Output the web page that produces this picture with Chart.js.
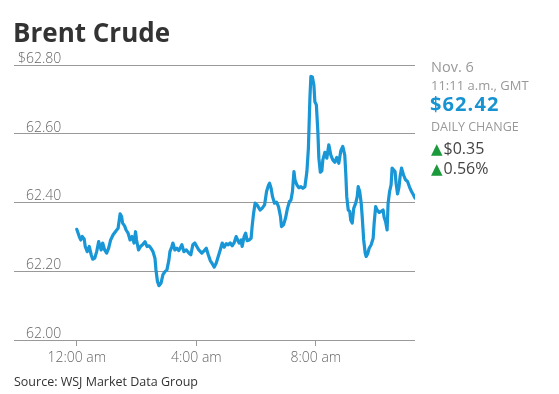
<!DOCTYPE html>
<html>
<head>
<meta charset="utf-8">
<script src="https://cdn.jsdelivr.net/npm/chart.js@4"></script>
<style>
  html, body { margin: 0; padding: 0; background: #fff; }
  body { width: 559px; height: 394px; position: relative; overflow: hidden; font-family: "Open Sans", Lato, sans-serif; }
  canvas { position: absolute; left: 0; top: 0; }
  .t { position: absolute; white-space: nowrap; line-height: 1; }
  #title { left: 13px; top: 19px; font-size: 26px; font-weight: 700; color: #333; }
  #date { left: 431px; top: 60.4px; font-size: 14.5px; color: #999; }
  #time { left: 431px; top: 78.5px; font-size: 13px; color: #999; }
  #price { left: 430px; top: 94px; font-size: 20px; font-weight: 700; color: #1793d1; letter-spacing: 1.1px; }
  #dc { left: 431px; top: 121.2px; font-size: 12.5px; color: #999; }
  .chg { position: absolute; white-space: nowrap; line-height: 1; left: 431px; font-size: 16px; color: #444; }
  #chg1 { top: 139.8px; }
  #chg2 { top: 159.8px; }
  .up { font-family: "DejaVu Sans", sans-serif; color: #1a9a3a; font-size: 15px; margin-right: 1px; }
  #src { left: 14px; top: 375.6px; font-size: 12.5px; color: #333; }
</style>
</head>
<body>
<canvas id="c" width="559" height="394"></canvas>
<div class="t" id="title">Brent Crude</div>
<div class="t" id="date">Nov. 6</div>
<div class="t" id="time">11:11 a.m., GMT</div>
<div class="t" id="price">$62.42</div>
<div class="t" id="dc">DAILY CHANGE</div>
<div class="chg" id="chg1"><span class="up">▲</span>$0.35</div>
<div class="chg" id="chg2"><span class="up">▲</span>0.56%</div>
<div class="t" id="src">Source: WSJ Market Data Group</div>
<script>
// minutes after midnight (GMT)
const times = [0,5,8,11,15,17,21,25,29,32,36,40,44,47,49,52,56,60,64,68,73,79,83,87,90,92,96,99,103,107,111,115,118,120,124,128,132,137,141,145,149,153,157,159,162,165,169,173,177,181,185,187,191,193,197,201,205,211,215,220,225,229,233,237,241,245,251,256,260,264,268,272,276,280,284,288,292,296,300,304,308,312,316,320,323,326,330,332,336,339,342,346,350,352,355,358,362,364,368,372,377,381,385,387,390,393,397,401,405,409,411,415,419,423,427,430,433,436,438,442,446,450,454,458,462,465,468,470,473,476,478,481,484,486,489,492,494,498,502,506,510,514,518,522,526,530,534,538,540,542,545,548,550,553,556,560,563,565,568,571,573,576,579,581,584,587,591,595,597,600,603,607,611,615,617,620,623,625,628,631,633,636,639,641,644,647,649,652,656,660,664,668,672,676,679];
const prices = [62.322,62.301,62.291,62.301,62.293,62.272,62.257,62.272,62.248,62.235,62.238,62.257,62.286,62.272,62.262,62.282,62.262,62.253,62.267,62.291,62.306,62.318,62.325,62.367,62.359,62.340,62.332,62.320,62.311,62.291,62.301,62.282,62.315,62.291,62.262,62.272,62.277,62.286,62.272,62.274,62.267,62.257,62.238,62.204,62.170,62.158,62.165,62.190,62.199,62.204,62.233,62.257,62.272,62.282,62.262,62.267,62.260,62.277,62.257,62.262,62.253,62.248,62.277,62.282,62.272,62.262,62.253,62.260,62.267,62.248,62.231,62.222,62.212,62.224,62.243,62.262,62.282,62.270,62.280,62.277,62.282,62.274,62.283,62.301,62.291,62.282,62.291,62.272,62.301,62.311,62.289,62.291,62.296,62.330,62.369,62.398,62.393,62.388,62.378,62.383,62.393,62.432,62.451,62.456,62.442,62.417,62.398,62.401,62.388,62.359,62.330,62.335,62.354,62.383,62.403,62.407,62.432,62.490,62.466,62.451,62.443,62.446,62.441,62.446,62.490,62.558,62.703,62.767,62.765,62.742,62.693,62.684,62.606,62.529,62.488,62.492,62.524,62.546,62.529,62.568,62.538,62.524,62.517,62.531,62.514,62.550,62.563,62.538,62.485,62.417,62.378,62.374,62.349,62.340,62.383,62.398,62.417,62.446,62.432,62.398,62.359,62.291,62.253,62.243,62.251,62.267,62.277,62.296,62.340,62.388,62.378,62.371,62.374,62.378,62.357,62.344,62.320,62.398,62.432,62.451,62.500,62.495,62.490,62.456,62.425,62.446,62.475,62.500,62.480,62.466,62.461,62.445,62.432,62.422,62.413];
const xTickValues = [0, 240, 480];
const xTickLabels = ["12:00 am", "4:00 am", "8:00 am"];
const yTickValues = [62.00, 62.20, 62.40, 62.60, 62.80];
const yTickLabels = ["62.00", "62.20", "62.40", "62.60", "$62.80"];

const GRID = '#999999';
const TICKFONT = { family: 'Open Sans', size: 14, weight: 300 };
new Chart(document.getElementById('c'), {
  type: 'line',
  data: {
    datasets: [{
      data: times.map((t, i) => ({ x: t, y: prices[i] })),
      borderColor: '#1896d6',
      borderWidth: 3.2,
      pointRadius: 0,
      tension: 0,
      fill: false,
      borderJoinStyle: 'round',
      borderCapStyle: 'round'
    }]
  },
  options: {
    responsive: false,
    animation: false,
    devicePixelRatio: 1,
    layout: { padding: { left: 14, right: 144, top: 65, bottom: 0 } },
    plugins: { legend: { display: false }, tooltip: { enabled: false } },
    scales: {
      x: {
        type: 'linear',
        min: -126,
        max: 679,
        afterBuildTicks: s => { s.ticks = xTickValues.map(v => ({ value: v })); },
        afterFit: s => { s.height = 54; },
        border: { display: false },
        grid: { drawOnChartArea: false, drawTicks: true, tickLength: 6, color: GRID, lineWidth: 1 },
        ticks: {
          padding: 4,
          maxRotation: 0,
          autoSkip: false,
          color: '#666',
          font: TICKFONT,
          callback: v => xTickLabels[xTickValues.indexOf(v)] ?? ''
        }
      },
      y: {
        min: 62.0,
        max: 62.8,
        afterBuildTicks: s => { s.ticks = yTickValues.map(v => ({ value: v })); },
        afterFit: s => { s.width = 0; },
        border: { display: false },
        grid: { drawTicks: false, color: GRID, lineWidth: 1 },
        ticks: {
          mirror: true,
          crossAlign: 'far',
          padding: 4,
          labelOffset: -6,
          color: '#666',
          font: TICKFONT,
          callback: (v, i) => yTickLabels[i]
        }
      }
    }
  }
});
</script>
</body>
</html>
